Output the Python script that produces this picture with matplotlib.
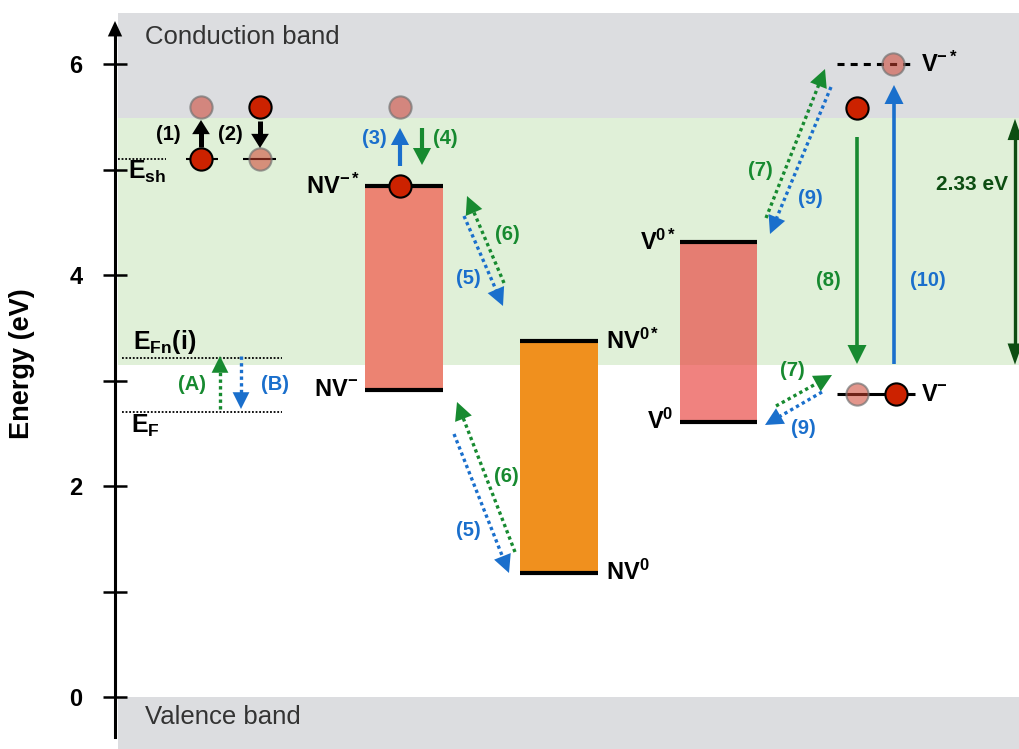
import numpy as np
import matplotlib
matplotlib.use('Agg')
import matplotlib.pyplot as plt

plt.rcParams['font.family'] = 'Liberation Sans'
plt.rcParams['mathtext.fontset'] = 'custom'
plt.rcParams['mathtext.rm'] = 'Liberation Sans'
plt.rcParams['mathtext.bf'] = 'Liberation Sans:bold'
plt.rcParams['mathtext.it'] = 'Liberation Sans:italic'

# energies (eV)
cb_edge, cb_top = 5.49, 6.48
green_low = 3.15
vb_edge = 0.0
E_sh = 5.10
E_upper = 5.59
E_Fn = 3.21
E_F = 2.70
gap_green = 2.33

bar_names = ['NV-', 'NV0', 'V0']
bar_ground = [2.91, 1.18, 2.61]
bar_excited = [4.84, 3.37, 4.31]
bar_colors = ['#ec8372', '#f0901e', (0.91, 0.25, 0.23, 0.65)]
bar_x = [404, 559, 718.5]
bar_w = [78, 78, 77]

vm_ground, vm_excited = 2.87, 6.00

green = '#178a30'
blue = '#1a6fcc'
dgreen = '#0d4d12'
red_e = '#cc2200'
pale_e = (0.80, 0.25, 0.18, 0.55)
pale_edge = (0.45, 0.45, 0.45, 0.7)


def ey(y):
    # pixel row -> energy
    return (697 - y) / 105.5


fig = plt.figure(figsize=(10.2, 7.49), dpi=100)
ax = fig.add_axes([0, 0, 1, 1])
ax.set_xlim(0, 1020)
ax.set_ylim(ey(749), ey(0))

for s in ['top', 'right', 'bottom']:
    ax.spines[s].set_visible(False)
ax.set_xticks([])
ax.spines['left'].set_position(('data', 115))
ax.spines['left'].set_bounds(ey(737), ey(30))
ax.spines['left'].set_linewidth(2.2)
ax.set_yticks([0, 2, 4, 6])
ax.set_yticks([1, 3, 5], minor=True)
ax.tick_params(axis='y', which='both', direction='inout', length=17, width=1.8)
ax.tick_params(axis='y', which='major', labelsize=17, pad=15)
for lbl in ax.get_yticklabels():
    lbl.set_fontweight('bold')

ax.text(22, ey(364), 'Energy (eV)', rotation=90, ha='center', va='center', fontsize=19.5, fontweight='bold')

# bands
x0f = 118 / 1020
ax.axhspan(cb_edge, cb_top, xmin=x0f, xmax=1, color='#dcdde0', lw=0, zorder=0)
ax.axhspan(green_low, cb_edge, xmin=x0f, xmax=1, color='#e0f0d8', lw=0, zorder=0)
ax.axhspan(ey(760), vb_edge, xmin=x0f, xmax=1, color='#dcdde0', lw=0, zorder=0)
ax.text(145, ey(37), 'Conduction band', fontsize=18.5, color='#333333', va='center')
ax.text(145, ey(717), 'Valence band', fontsize=18.5, color='#333333', va='center')

# dotted reference levels
ax.hlines(E_sh, 118, 166, colors='k', lw=1.3, ls=(0, (1, 1)), zorder=2)
ax.hlines([E_Fn, E_F], 122, 282, colors='k', lw=1.3, ls=(0, (1, 1)), zorder=2)
ax.text(128, ey(172), r'$\mathbf{E_{sh}}$', fontsize=18, va='center')
ax.text(133, ey(342), r'$\mathbf{E_{Fn}(i)}$', fontsize=18, va='center')
ax.text(131, ey(426), r'$\mathbf{E_{F}}$', fontsize=18, va='center')

# defect bars
heights = np.array(bar_excited) - np.array(bar_ground)
ax.bar(bar_x, heights, bottom=bar_ground, width=bar_w, color=bar_colors, lw=0, zorder=2)
for xc, w, g, e in zip(bar_x, bar_w, bar_ground, bar_excited):
    ax.hlines([g, e], xc - w / 2, xc + w / 2, colors='k', lw=3, zorder=3)

lab = dict(fontsize=17, fontweight='bold', va='center')
ax.text(360, bar_excited[0], r'$\mathbf{NV^{-*}}$', ha='right', **lab)
ax.text(358, bar_ground[0], r'$\mathbf{NV^{-}}$', ha='right', **lab)
ax.text(606, bar_excited[1], r'$\mathbf{NV^{0*}}$', ha='left', **lab)
ax.text(606, bar_ground[1], r'$\mathbf{NV^{0}}$', ha='left', **lab)
ax.text(676, bar_excited[2], r'$\mathbf{V^{0*}}$', ha='right', **lab)
ax.text(673, bar_ground[2], r'$\mathbf{V^{0}}$', ha='right', **lab)

# V- levels
ax.hlines(vm_excited, 837, 912, colors='k', lw=2.2, ls=(0, (2.3, 2)), zorder=3)
ax.hlines(vm_ground, 837, 915, colors='k', lw=2.2, zorder=3)
ax.text(921, vm_excited, r'$\mathbf{V^{-*}}$', ha='left', **lab)
ax.text(921, vm_ground, r'$\mathbf{V^{-}}$', ha='left', **lab)

# short lines through surface-state electrons
ax.hlines([E_sh, E_sh], [186, 243], [218, 276], colors='k', lw=1.5, zorder=3)

# electrons
red_pts = [(201, E_sh), (260, E_upper), (400, bar_excited[0]), (857, E_upper - 0.01), (896, vm_ground)]
pale_pts = [(201, E_upper), (260, E_sh), (400, E_upper), (893, vm_excited), (857, vm_ground)]
rx, ry = zip(*red_pts)
px, py = zip(*pale_pts)
ax.plot(rx, ry, 'o', ms=16, mfc=red_e, mec='k', mew=1.5, ls='none', zorder=6)
ax.plot(px, py, 'o', ms=16, mfc=pale_e, mec=pale_edge, mew=1.5, ls='none', zorder=6)


def head(xb, yb, xt, yt, color, hl, hw):
    # filled triangle head; hl = axial length, hw = full width (pixels)
    a = hl * 0.72
    h = hw * 0.36
    L = np.hypot(a, h)
    ax.annotate('', xy=(xt, ey(yt)), xytext=(xb, ey(yb)),
                arrowprops=dict(arrowstyle='-|>,head_length=%.3f,head_width=%.3f' % (L, L * h / a),
                                mutation_scale=1, color=color, lw=0, shrinkA=0, shrinkB=0),
                zorder=7)


def arrow(x0, y0, x1, y1, color, lw=2.5, hl=16, hw=16, dotted=False, both=False):
    # pixel coords; shaft drawn as a line, head(s) as filled triangles
    d = np.array([x1 - x0, y1 - y0], float)
    u = d / np.hypot(*d)
    p0 = np.array([x0, y0], float)
    p1 = np.array([x1, y1], float)
    e1 = p1 - u * hl * (1.0 if dotted else 0.8)
    e0 = p0 + u * hl * 0.8 if both else p0
    ls = (0, (1, 1)) if dotted else '-'
    ax.plot([e0[0], e1[0]], [ey(e0[1]), ey(e1[1])], color=color, lw=lw, ls=ls,
            dash_capstyle='butt', solid_capstyle='butt', zorder=7)
    head(p1[0] - u[0] * hl, p1[1] - u[1] * hl, x1, y1, color, hl, hw)
    if both:
        head(p0[0] + u[0] * hl, p0[1] + u[1] * hl, x0, y0, color, hl, hw)


# energy axis arrow head
arrow(115, 40, 115, 21, 'k', lw=2.2, hl=14, hw=13)

# surface state transitions
arrow(201, 147, 201, 120, 'k', lw=3.6, hl=12, hw=15)
arrow(260, 121, 260, 148, 'k', lw=3.6, hl=12, hw=15)
arrow(220, 409, 220, 356, green, lw=2.4, hl=15, hw=15, dotted=True)
arrow(241, 356, 241, 409, blue, lw=2.4, hl=15, hw=15, dotted=True)

# NV- excitation
arrow(400, 166, 400, 128, blue, lw=3, hl=15, hw=16)
arrow(422, 128, 422, 165, green, lw=3, hl=15, hw=16)

# NV charge conversion pairs
arrow(504, 283, 467, 196, green, lw=2.4, dotted=True)
arrow(464, 216, 503, 306, blue, lw=2.4, dotted=True)
arrow(515, 552, 457, 402, green, lw=2.4, dotted=True)
arrow(454, 434, 509, 573, blue, lw=2.4, dotted=True)

# V charge conversion pairs
arrow(766, 218, 825, 69, green, lw=2.4, dotted=True)
arrow(831, 87, 770, 234, blue, lw=2.4, dotted=True)
arrow(776, 406, 832, 375, green, lw=2.4, dotted=True)
arrow(822, 392, 765, 425, blue, lw=2.4, dotted=True)

# V- optical transitions
arrow(857, 137, 857, 364, green, lw=2.6, hl=17, hw=17)
arrow(894, 364, 894, 85, blue, lw=2.6, hl=17, hw=17)
gap_top_px = 697 - (green_low + gap_green) * 105.5
gap_bot_px = 697 - green_low * 105.5
arrow(1015, gap_bot_px, 1015, gap_top_px, dgreen, lw=2.4, hl=20, hw=14, both=True)
ax.text(1008, ey(185), '2.33 eV', ha='right', va='center', fontsize=15, fontweight='bold', color=dgreen)

# step labels
num = dict(fontsize=14.5, fontweight='bold', ha='center', va='center')
ax.text(168, ey(135), '(1)', color='k', **num)
ax.text(230, ey(135), '(2)', color='k', **num)
ax.text(192, ey(385), '(A)', color=green, **num)
ax.text(275, ey(385), '(B)', color=blue, **num)
ax.text(374, ey(139), '(3)', color=blue, **num)
ax.text(445, ey(139), '(4)', color=green, **num)
ax.text(507, ey(235), '(6)', color=green, **num)
ax.text(468, ey(278), '(5)', color=blue, **num)
ax.text(506, ey(477), '(6)', color=green, **num)
ax.text(468, ey(530), '(5)', color=blue, **num)
ax.text(760, ey(170), '(7)', color=green, **num)
ax.text(810, ey(198), '(9)', color=blue, **num)
ax.text(792, ey(370), '(7)', color=green, **num)
ax.text(803, ey(428), '(9)', color=blue, **num)
ax.text(828, ey(280), '(8)', color=green, **num)
ax.text(928, ey(280), '(10)', color=blue, **num)

fig.savefig('out.png', dpi=100)
